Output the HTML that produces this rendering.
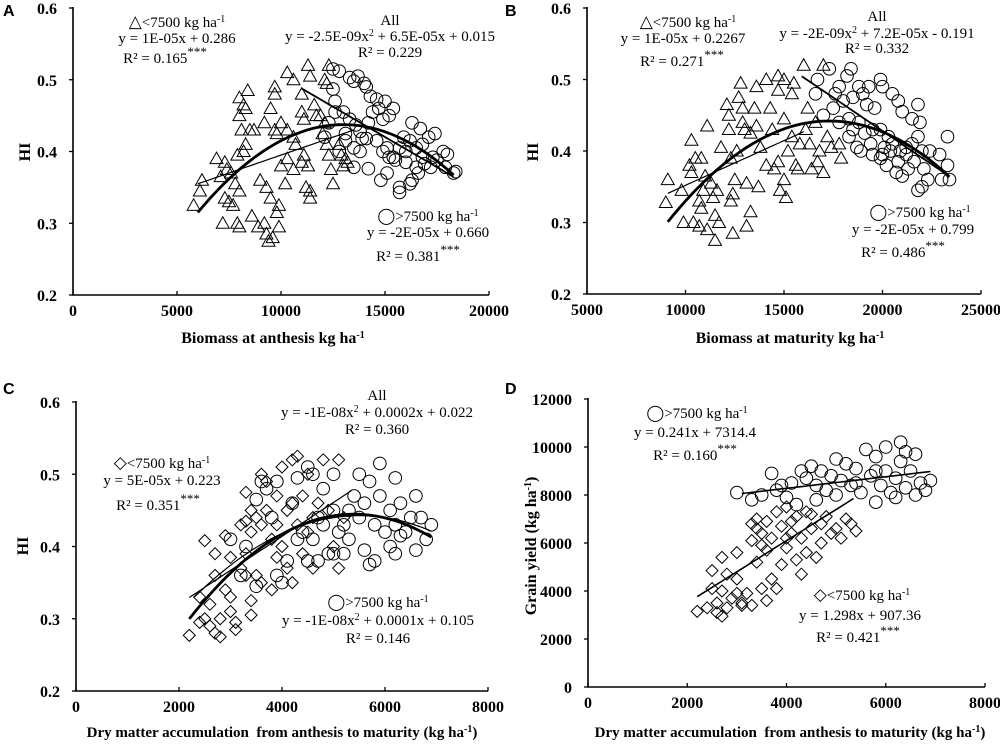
<!DOCTYPE html>
<html><head><meta charset="utf-8">
<style>
html,body{margin:0;padding:0;background:#fff;}
svg{display:block;font-family:"Liberation Serif",serif;}
.tick{font-weight:bold;font-size:16px;}
.ann{font-size:15px;}
.ttl{font-weight:bold;font-size:16px;}
.ttl2{font-weight:bold;font-size:15px;}
.let{font-family:"Liberation Sans",sans-serif;font-weight:bold;font-size:16px;}
</style></head>
<body>
<svg id="chart" width="1000" height="744" viewBox="0 0 1000 744" xmlns="http://www.w3.org/2000/svg"></svg>
<script>
// ---------- Panel A data ----------
const aTriX=[6200,6100,5800,6900,7300,7400,7600,7100,7300,7500,7700,7200,7900,8000,7900,8000,8300,8400,8200,8000,8100,8300,8200,8500,8700,7800,8000,8600,8900,9200,9300,9400,9600,9900,9000,9300,9500,9900,9800,9500,9700,9700,9200,9700,9800,10000,10300,10600,10000,10300,10300,10200,10600,10700,11000,10600,11100,11300,11400,11000,11000,11100,11300,11200,11400,11400,11600,11700,11900,12000,12100,12200,12100,12200,12300,12400,12500,12300,12800,12900,13000,13100,13200];
const aTriY=[.36,.345,.325,.39,.385,.375,.37,.365,.335,.33,.325,.3,.3,.295,.395,.475,.46,.485,.465,.45,.43,.41,.4,.43,.43,.355,.345,.31,.295,.3,.285,.275,.28,.295,.36,.35,.335,.325,.315,.46,.49,.48,.44,.43,.425,.38,.51,.5,.44,.43,.39,.355,.42,.41,.385,.375,.395,.52,.505,.48,.455,.445,.38,.35,.345,.335,.465,.45,.45,.425,.5,.495,.44,.41,.395,.375,.355,.52,.41,.395,.38,.39,.385];
const aCirX=[12500,12800,13300,13500,13700,14000,14100,14300,14600,12500,12600,13000,13300,13600,13800,13900,14400,14700,15000,15400,14900,15200,13100,13500,13800,14100,14600,14900,15100,15200,15500,15900,16200,16500,16800,16700,16300,17100,17400,17800,18000,17500,17200,16900,16600,16300,15700,15700,16200,14800,15100,13500,14200,15400,16000,17300,17900,18300,18400,16800,16500,16000,12800,13100,14200,15700,12600,12300,12100];
const aCirY=[.515,.512,.503,.498,.505,.495,.49,.477,.473,.487,.47,.455,.445,.437,.428,.418,.455,.46,.47,.46,.445,.45,.415,.405,.4,.418,.415,.4,.405,.392,.388,.42,.415,.405,.41,.432,.44,.42,.425,.4,.396,.388,.378,.383,.37,.36,.35,.343,.355,.36,.37,.378,.376,.392,.385,.392,.378,.37,.372,.392,.378,.4,.4,.425,.44,.405,.455,.44,.42];
const aFitAll=[-2.5e-9,6.5e-5,0.015], aFitAllRange=[6000,18300];
const aFitTri=[0,1e-5,0.295], aFitTriRange=[6000,13500];
const aFitCir=[0,-1.685e-5,0.673], aFitCirRange=[11000,18300];
const aXTicks=[0,5000,10000,15000,20000], hiTicks=[0.2,0.3,0.4,0.5,0.6];
const hiTickLabels=["0.2","0.3","0.4","0.5","0.6"];
// ---------- Panel B data ----------
const bTriX=[9100,9000,9800,9900,10300,10200,10300,10400,10500,10700,10700,10800,10800,10900,11000,11100,11100,11300,11400,11500,11500,11600,11700,11800,12100,12200,12200,12300,12300,12400,12400,12500,12600,12700,12800,12900,12900,13000,13100,13100,13300,13300,13500,13600,13600,13700,13800,14100,14100,14300,14400,14500,14700,14700,14700,14800,15000,15000,15000,15100,15200,15400,15400,15500,15600,15700,15800,16000,16100,16200,16300,16400,16600,16800,17000,17000,17200,17400,17800,17900,16700];
const bTriY=[.36,.328,.345,.3,.415,.38,.37,.3,.39,.33,.295,.39,.32,.345,.365,.435,.29,.355,.335,.31,.275,.345,.3,.405,.465,.45,.43,.39,.33,.34,.285,.36,.4,.475,.495,.46,.44,.43,.355,.295,.315,.425,.46,.49,.435,.35,.405,.5,.38,.46,.43,.375,.505,.485,.385,.345,.5,.445,.36,.335,.4,.48,.42,.495,.38,.375,.41,.52,.43,.46,.41,.375,.44,.4,.52,.37,.42,.405,.41,.39,.385];
const bCirX=[17300,17800,18200,18400,18800,18500,18000,17500,19000,19300,19900,20000,19200,19600,20500,20800,21000,21500,21800,21900,18300,18800,19100,19500,19900,20300,20500,20900,21200,21500,21800,22000,22400,22900,23300,23300,23400,23000,22300,22000,21800,21000,20700,20200,19900,18700,18300,19400,20100,20800,21300,21600,22100,21200,20000,18900,17800,17000,16700,16600,17600,18500,19500,20400];
const bCirY=[.515,.49,.505,.515,.49,.475,.47,.46,.48,.49,.5,.49,.465,.46,.48,.47,.455,.445,.465,.44,.445,.44,.425,.43,.43,.42,.41,.4,.405,.41,.42,.4,.4,.395,.42,.38,.36,.36,.36,.35,.345,.365,.37,.38,.39,.405,.42,.41,.405,.385,.375,.385,.375,.395,.395,.4,.44,.45,.5,.48,.48,.43,.395,.4];
const bFitAll=[-2.1e-9,7.266e-5,-0.1865], bFitAllRange=[9100,23400];
const bFitTri=[0,1.25e-5,0.227], bFitTriRange=[9100,16000];
const bFitCir=[0,-1.87e-5,0.802], bFitCirRange=[15900,23400];
const bXTicks=[5000,10000,15000,20000,25000];
// ---------- Panel C data ----------
const cDiaX=[2200,2400,2400,2500,2500,2600,2600,2700,2700,2700,2800,2800,2900,2900,3000,3000,3000,3100,3100,3200,3300,3300,3300,3400,3400,3400,3400,3500,3500,3600,3600,3600,3700,3700,3800,3900,3900,3900,4000,4000,4100,4100,4200,4200,4200,4300,4300,4400,4400,4500,4600,4600,4700,4800,4900,5000,5100,5100,5200,4500,3800,3200,3300];
const cDiaY=[.277,.295,.33,.408,.3,.32,.29,.39,.36,.28,.3,.275,.415,.34,.385,.33,.31,.285,.295,.37,.475,.435,.39,.45,.42,.325,.305,.44,.36,.5,.43,.35,.49,.45,.34,.47,.43,.385,.51,.4,.45,.37,.52,.46,.35,.525,.43,.47,.39,.42,.44,.37,.46,.52,.45,.4,.52,.37,.44,.5,.41,.43,.36];
const cCirX=[3000,3200,3300,3500,3500,3600,3700,3800,3900,3900,4000,4100,4200,4300,4400,4500,4500,4600,4600,4700,4800,4900,5000,5000,5100,5200,5200,5300,5400,5500,5500,5600,5600,5700,5800,5800,5900,5900,6000,6100,6200,6200,6200,6300,6300,6400,6500,6600,6600,6700,6800,6900,5700,5300,4800,4300,4700,6100,5000];
const cCirY=[.41,.36,.4,.345,.465,.49,.48,.44,.36,.49,.35,.38,.46,.495,.42,.51,.38,.5,.41,.44,.48,.39,.5,.45,.42,.39,.43,.41,.47,.5,.44,.395,.46,.49,.38,.43,.515,.47,.42,.45,.495,.43,.39,.46,.415,.42,.44,.47,.395,.44,.41,.43,.375,.45,.43,.41,.38,.4,.39];
const cFitAll=[-1.416e-8,1.529e-4,0.032], cFitAllRange=[2200,6900];
const cFitDia=[0,4.7e-5,0.226], cFitDiaRange=[2200,5350];
const cFitCir=[-1.1e-8,1.21e-4,0.11], cFitCirRange=[2300,6900];
const cdXTicks=[0,2000,4000,6000,8000];
// ---------- Panel D data ----------
const dDiaX=[2200,2400,2500,2500,2600,2600,2700,2700,2700,2800,2800,2900,3000,3000,3000,3100,3100,3200,3300,3300,3400,3400,3400,3500,3500,3600,3600,3600,3700,3700,3800,3800,3900,3900,4000,4000,4100,4100,4200,4200,4300,4300,4400,4400,4500,4500,4600,4700,4700,4800,4900,5000,5100,5200,5300,5400,3300,4000,3500];
const dDiaY=[3150,3300,4100,4850,3100,3500,2950,4000,5400,4700,3300,3700,4500,3900,5600,3500,3400,3900,3400,6100,5200,6600,7000,4100,6400,6900,3600,5700,4500,6200,7300,4100,5100,6700,7500,5800,6400,6900,5300,7100,6200,4700,7300,5600,6600,7200,5400,6000,6800,7100,6400,6600,6200,7000,6800,6500,6800,6200,5900];
const dCirX=[3000,3300,3500,3700,3900,4000,4100,4300,4400,4500,4600,4700,4800,4900,5000,5100,5200,5300,5400,5500,5600,5700,5800,5800,5900,6000,6000,6100,6200,6300,6300,6400,6500,6600,6600,6700,6800,6900,6200,5400,4600,3800,4200,5000,5800,6400];
const dCirY=[8100,7800,8000,8900,8400,7900,8500,9000,8700,9200,8400,9000,8200,8800,9500,8600,9300,8400,9100,8100,9900,8800,9600,7700,8400,10000,9000,8100,8700,10200,9400,8300,9000,9700,8000,8500,8200,8600,7900,8500,7800,8200,7600,8000,9000,9800];
const dFitCir=[0,0.241,7314.4], dFitCirRange=[3100,6900];
const dFitDia=[0,1.298,907.36], dFitDiaRange=[2200,5350];
const dYTicks=[0,2000,4000,6000,8000,10000,12000];
const dYTickLabels=["0","2000","4000","6000","8000","10000","12000"];

const NS="http://www.w3.org/2000/svg";
const svg=document.getElementById('chart');
function mk(tag,attrs,parent){const e=document.createElementNS(NS,tag);for(const k in attrs)e.setAttribute(k,attrs[k]);(parent||svg).appendChild(e);return e;}

function panel(id,x0,x1,y0,y1,xmin,xmax,ymin,ymax,xTicks,yTicks,yLabels){
  const g=mk('g',{});
  
  
  const sx=v=>x0+(v-xmin)/(xmax-xmin)*(x1-x0);
  const sy=v=>y0-(v-ymin)/(ymax-ymin)*(y0-y1);
  const ax=mk('path',{d:`M${x0},${y1-1}V${y0}H${x1}`,fill:'none',stroke:'#000','stroke-width':1.6},g);
  
  
  xTicks.forEach(t=>{
    mk('line',{x1:sx(t),x2:sx(t),y1:y0,y2:y0-4,stroke:'#000','stroke-width':1.3},g);
    const tx=mk('text',{x:sx(t),y:y0+21,'text-anchor':'middle',class:'tick'},g);
    tx.textContent=String(t);
    
    
  });
  yTicks.forEach((t,i)=>{
    mk('line',{x1:x0,x2:x0-4,y1:sy(t),y2:sy(t),stroke:'#000','stroke-width':1.3},g);
    const tx=mk('text',{x:x0-16,y:sy(t)+6,'text-anchor':'end',class:'tick'},g);
    tx.textContent=yLabels[i];
    
    
  });
  return {g,sx,sy};
}
function points(p,xs,ys,shape,name){
  const g=mk('g',{fill:'none',stroke:'#000','stroke-width':1},p.g);
  
  
  xs.forEach((v,i)=>{
    const x=p.sx(v),y=p.sy(ys[i]);let e;
    if(shape==='tri') e=mk('path',{d:`M${x},${y-6.5}L${x+6.5},${y+5}L${x-6.5},${y+5}Z`},g);
    else if(shape==='cir') e=mk('circle',{cx:x,cy:y,r:6.3},g);
    else e=mk('path',{d:`M${x},${y-6}L${x+6},${y}L${x},${y+6}L${x-6},${y}Z`},g);
    
    
  });
}
function fit(p,c,r,w,name){
  let d='';
  for(let i=0;i<=40;i++){const v=r[0]+(r[1]-r[0])*i/40;const y=c[0]*v*v+c[1]*v+c[2];d+=(i?'L':'M')+p.sx(v).toFixed(1)+','+p.sy(y).toFixed(1);}
  const e=mk('path',{d,fill:'none',stroke:'#000','stroke-width':w},p.g);
  
  
}
function txt(x,y,html,cls,name,anchor,rot){
  const t=mk('text',{x,y,class:cls,'text-anchor':anchor||'middle'});
  if(rot) t.setAttribute('transform',`rotate(-90 ${x} ${y})`);
  t.innerHTML=html;
  
  
  return t;
}
const sup=s=>`<tspan baseline-shift="super" font-size="10">${s}</tspan>`;
const supStars=`<tspan baseline-shift="super" font-size="13">***</tspan>`;
const circ=`<tspan font-size="16">◯</tspan>`;
const tri=`<tspan font-size="17">△</tspan>`;
const dia=`<tspan font-size="17">◇</tspan>`;

// Panel A
const pA=panel('a',73,489,295,8,0,20000,0.2,0.6,aXTicks,hiTicks,hiTickLabels);
points(pA,aTriX,aTriY,'tri','triangles-below-7500');
points(pA,aCirX,aCirY,'cir','circles-above-7500');
fit(pA,aFitAll,aFitAllRange,2.8,'fit-all');
fit(pA,aFitTri,aFitTriRange,1.2,'fit-below-7500');
fit(pA,aFitCir,aFitCirRange,1.8,'fit-above-7500');
// Panel B
const pB=panel('b',587,981,294,8,5000,25000,0.2,0.6,bXTicks,hiTicks,hiTickLabels);
points(pB,bTriX,bTriY,'tri','triangles-below-7500');
points(pB,bCirX,bCirY,'cir','circles-above-7500');
fit(pB,bFitAll,bFitAllRange,2.8,'fit-all');
fit(pB,bFitTri,bFitTriRange,1.2,'fit-below-7500');
fit(pB,bFitCir,bFitCirRange,1.8,'fit-above-7500');
// Panel C
const pC=panel('c',76,488,691,402,0,8000,0.2,0.6,cdXTicks,hiTicks,hiTickLabels);
points(pC,cDiaX,cDiaY,'dia','diamonds-below-7500');
points(pC,cCirX,cCirY,'cir','circles-above-7500');
fit(pC,cFitAll,cFitAllRange,2.8,'fit-all');
fit(pC,cFitDia,cFitDiaRange,1.2,'fit-below-7500');
fit(pC,cFitCir,cFitCirRange,1.2,'fit-above-7500');
// Panel D
const pD=panel('d',588,985,687,399,0,8000,0,12000,cdXTicks,dYTicks,dYTickLabels);
points(pD,dDiaX,dDiaY,'dia','diamonds-below-7500');
points(pD,dCirX,dCirY,'cir','circles-above-7500');
fit(pD,dFitCir,dFitCirRange,1.6,'fit-above-7500');
fit(pD,dFitDia,dFitDiaRange,1.6,'fit-below-7500');

// Panel letters
txt(3,16,'A','let','panel-letter-a','start');
txt(505,16,'B','let','panel-letter-b','start');
txt(3,394,'C','let','panel-letter-c','start');
txt(505,394,'D','let','panel-letter-d','start');
// Axis titles
txt(273,343,'Biomass at anthesis kg ha'+sup('-1'),'ttl','x-axis-title-a');
txt(30,152,'HI','ttl','y-axis-title-a','middle',true);
txt(790,343,'Biomass at maturity kg ha'+sup('-1'),'ttl','x-axis-title-b');
txt(538,152,'HI','ttl','y-axis-title-b','middle',true);
txt(282,737,'Dry matter accumulation&#160; from anthesis to maturity (kg ha'+sup('-1')+')','ttl2','x-axis-title-c');
txt(28,546,'HI','ttl','y-axis-title-c','middle',true);
txt(790,737,'Dry matter accumulation&#160; from anthesis to maturity (kg ha'+sup('-1')+')','ttl2','x-axis-title-d');
txt(536,546,'Grain yield (kg ha'+sup('-1')+')','ttl','y-axis-title-d','middle',true);

// Annotations A
txt(177,27,tri+'&lt;7500 kg ha'+sup('-1'),'ann','label-below-7500-a');
txt(177,43,'y = 1E-05x + 0.286','ann','equation-below-7500-a');
txt(165,63,'R² = 0.165'+supStars,'ann','r2-below-7500-a');
txt(390,25,'All','ann','label-all-a');
txt(390,41,'y = -2.5E-09x'+sup('2')+' + 6.5E-05x + 0.015','ann','equation-all-a');
txt(390,57,'R² = 0.229','ann','r2-all-a');
txt(428,221,circ+'&gt;7500 kg ha'+sup('-1'),'ann','label-above-7500-a');
txt(428,237,'y = -2E-05x + 0.660','ann','equation-above-7500-a');
txt(418,261,'R² = 0.381'+supStars,'ann','r2-above-7500-a');
// Annotations B
txt(688,27,tri+'&lt;7500 kg ha'+sup('-1'),'ann','label-below-7500-b');
txt(683,43,'y = 1E-05x + 0.2267','ann','equation-below-7500-b');
txt(682,66,'R² = 0.271'+supStars,'ann','r2-below-7500-b');
txt(877,21,'All','ann','label-all-b');
txt(877,38,'y = -2E-09x'+sup('2')+' + 7.2E-05x - 0.191','ann','equation-all-b');
txt(877,53,'R² = 0.332','ann','r2-all-b');
txt(920,217,circ+'&gt;7500 kg ha'+sup('-1'),'ann','label-above-7500-b');
txt(913,234,'y = -2E-05x + 0.799','ann','equation-above-7500-b');
txt(903,257,'R² = 0.486'+supStars,'ann','r2-above-7500-b');
// Annotations C
txt(377,400,'All','ann','label-all-c');
txt(377,417,'y = -1E-08x'+sup('2')+' + 0.0002x + 0.022','ann','equation-all-c');
txt(377,434,'R² = 0.360','ann','r2-all-c');
txt(162,468,dia+'&lt;7500 kg ha'+sup('-1'),'ann','label-below-7500-c');
txt(162,485,'y = 5E-05x + 0.223','ann','equation-below-7500-c');
txt(158,510,'R² = 0.351'+supStars,'ann','r2-below-7500-c');
txt(378,607,circ+'&gt;7500 kg ha'+sup('-1'),'ann','label-above-7500-c');
txt(378,625,'y = -1E-08x'+sup('2')+' + 0.0001x + 0.105','ann','equation-above-7500-c');
txt(378,643,'R² = 0.146','ann','r2-above-7500-c');
// Annotations D
txt(697,418,circ+'&gt;7500 kg ha'+sup('-1'),'ann','label-above-7500-d');
txt(695,437,'y = 0.241x + 7314.4','ann','equation-above-7500-d');
txt(695,460,'R² = 0.160'+supStars,'ann','r2-above-7500-d');
txt(862,600,dia+'&lt;7500 kg ha'+sup('-1'),'ann','label-below-7500-d');
txt(860,620,'y = 1.298x + 907.36','ann','equation-below-7500-d');
txt(858,642,'R² = 0.421'+supStars,'ann','r2-below-7500-d');
</script>
</body></html>
